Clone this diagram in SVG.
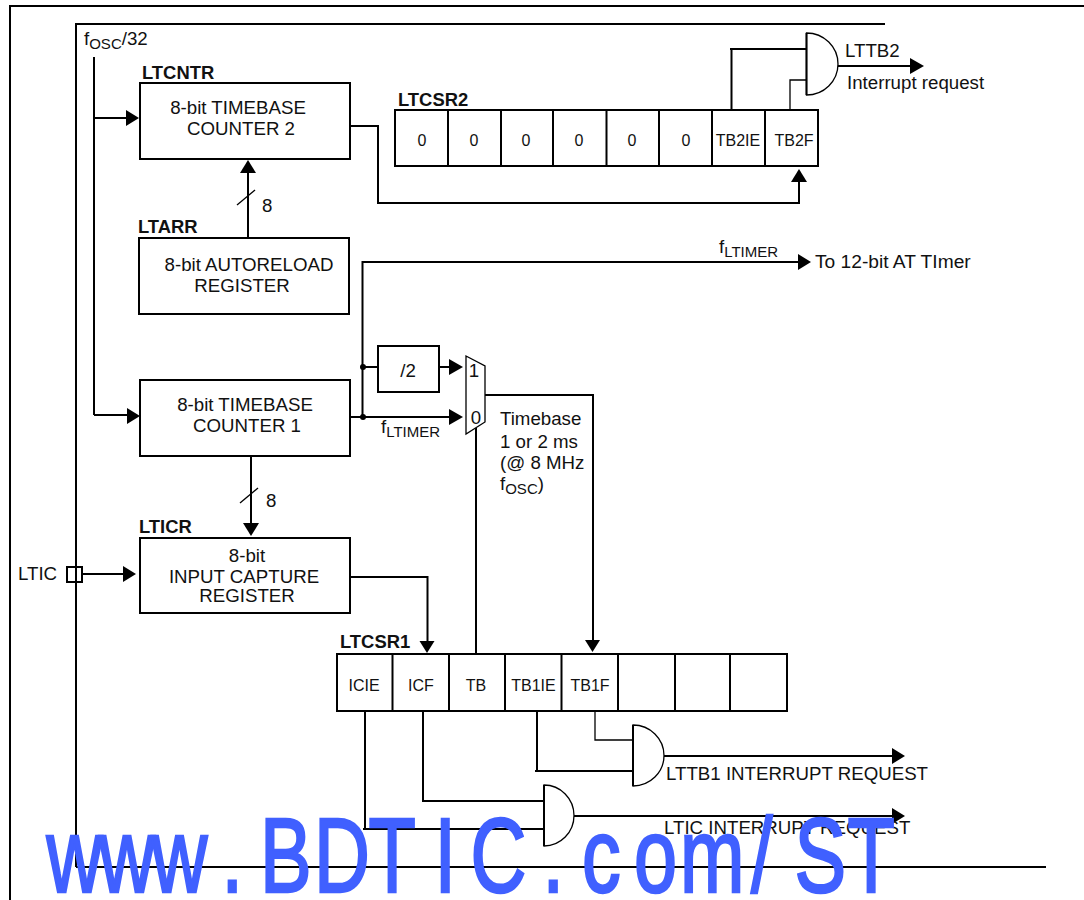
<svg xmlns="http://www.w3.org/2000/svg" width="1084" height="900" viewBox="0 0 1084 900">
<style>
text{font-family:"Liberation Sans",Arial,sans-serif;fill:#111;font-size:18.7px}
.b{font-weight:bold;font-size:18.4px}
.s{font-size:16px}
.c{text-anchor:middle}
.sub{font-size:15px}
.box{fill:#fff;stroke:#000;stroke-width:2}
.w{fill:none;stroke:#000;stroke-width:2}
.n{fill:none;stroke:#000;stroke-width:1.3}
.g{fill:#fff;stroke:#000;stroke-width:1.3}
.h{fill:#000;stroke:none}
text.wm{font-size:106px;fill:#4060ff;stroke:#4060ff;stroke-width:2.500}
</style>
<g id="frame" class="w">
<path d="M10 900V6H1084"/>
<path d="M76 867V24H885"/>
<path d="M76 867H1046"/>
</g>
<g id="connectors">
<path class="w" d="M94 57V415M94 118H127M94 415H127"/>
<polygon class="h" points="139,118 126,110 126,126"/>
<polygon class="h" points="140,416 127,408 127,424"/>
<path class="w" d="M248 238V172"/>
<polygon class="h" points="248,160 240,173 256,173"/>
<path class="n" d="M237 205L255 190"/>
<path class="w" d="M351 126H378V203H799V182"/>
<polygon class="h" points="799,169 791,182 807,182"/>
<path class="w" d="M731.500 110V49H807M730 49H732"/>
<path class="n" d="M790 110V80H807"/>
<path class="w" d="M838 66H911"/>
<polygon class="h" points="924,66 910,58 910,74"/>
<path class="w" d="M362.500 417V262H799"/>
<polygon class="h" points="811,262 798,254 798,270"/>
<path class="w" d="M351 417H450M363 367H378M439 367H450"/>
<polygon class="h" points="463,367 449,359 449,375"/>
<polygon class="h" points="463,417 449,409 449,425"/>
<circle class="h" cx="363" cy="367" r="3"/>
<circle class="h" cx="363" cy="417" r="3"/>
<path class="w" d="M485 395H593V641"/>
<polygon class="h" points="592.500,652 585,640 600,640"/>
<path class="w" d="M476 428V654"/>
<path class="w" d="M251 456V524"/>
<polygon class="h" points="251,536 243,523 259,523"/>
<path class="n" d="M240 503L258 488"/>
<path class="w" d="M82 574H124"/>
<polygon class="h" points="136,574 123,566 123,582"/>
<path class="w" d="M351 577H427.500V642"/>
<polygon class="h" points="427,653 419.500,641 434.500,641"/>
<path class="w" d="M365 711V829H544M363 829H366"/>
<path class="w" d="M423 711V801H544"/>
<path class="w" d="M537 711V771M535 771H635"/>
<path class="n" d="M595 711V740H633"/>
<path class="w" d="M664 756H893"/>
<polygon class="h" points="905,756 892,748 892,764"/>
<path class="w" d="M574 816H893"/>
<polygon class="h" points="905,816 892,808 892,824"/>
</g>
<g id="ltcntr">
<text class="b" x="142" y="79">LTCNTR</text>
<rect class="box" x="140" y="83" width="210" height="76"/>
<text class="c" x="238" y="114">8-bit TIMEBASE</text>
<text class="c" x="241" y="135">COUNTER 2</text>
</g>
<g id="label-8-a"><text x="262" y="212">8</text></g>
<g id="ltarr">
<text class="b" x="138" y="233">LTARR</text>
<rect class="box" x="139" y="238" width="210" height="76"/>
<text class="c" x="249" y="271">8-bit AUTORELOAD</text>
<text class="c" x="242" y="292">REGISTER</text>
</g>
<g id="ltcsr2">
<text class="b" x="398" y="106">LTCSR2</text>
<rect class="box" x="395" y="110" width="423" height="56"/>
<path class="w" d="M448 110V166M501 110V166M553 110V166M606.500 110V166M659 110V166M712 110V166M765 110V166"/>
<text class="s c" x="422" y="146">0</text>
<text class="s c" x="474" y="146">0</text>
<text class="s c" x="526" y="146">0</text>
<text class="s c" x="579" y="146">0</text>
<text class="s c" x="632" y="146">0</text>
<text class="s c" x="686" y="146">0</text>
<text class="s c" x="738" y="146">TB2IE</text>
<text class="s c" x="794" y="146">TB2F</text>
</g>
<g id="gate-ltb2">
<path class="g" d="M806.500 33A31.500 31 0 0 1 806.500 95Z"/>
<path class="w" d="M806.500 33V95"/>
<text x="845" y="57">LTTB2</text>
<text x="847" y="89">Interrupt request</text>
</g>
<g id="fosc">
<text x="84" y="45">f<tspan class="sub" dy="4">OSC</tspan><tspan dy="-4">/32</tspan></text>
</g>
<g id="to-at-timer">
<text x="719" y="253">f<tspan class="sub" dy="4">LTIMER</tspan></text>
<text x="815" y="268" style="font-size:19.200px">To 12-bit AT TImer</text>
</g>
<g id="counter1">
<rect class="box" x="140" y="380" width="210" height="76"/>
<text class="c" x="245" y="411">8-bit TIMEBASE</text>
<text class="c" x="247" y="432">COUNTER 1</text>
</g>
<g id="div2">
<rect class="box" x="378" y="346" width="61" height="46"/>
<text class="c" x="408" y="377">/2</text>
</g>
<g id="flt-label"><text x="381" y="433">f<tspan class="sub" dy="4">LTIMER</tspan></text></g>
<g id="mux">
<polygon class="g" points="466,356 485,366 485,422 466,434"/>
<text class="c" x="474" y="377">1</text>
<text class="c" x="476" y="424">0</text>
</g>
<g id="timebase-note">
<text x="500" y="425">Timebase</text>
<text x="500" y="448">1 or 2 ms</text>
<text x="500" y="469">(@ 8 MHz</text>
<text x="500" y="490">f<tspan class="sub" dy="4">OSC</tspan><tspan dy="-4">)</tspan></text>
</g>
<g id="label-8-b"><text x="266" y="507">8</text></g>
<g id="lticr">
<text class="b" x="139" y="533">LTICR</text>
<rect class="box" x="140" y="538" width="210" height="75"/>
<text class="c" x="247" y="562">8-bit</text>
<text class="c" x="244" y="583">INPUT CAPTURE</text>
<text class="c" x="247" y="602">REGISTER</text>
</g>
<g id="ltic-pin">
<text x="18" y="580">LTIC</text>
<rect class="w" x="67" y="567" width="15" height="15"/>
</g>
<g id="ltcsr1">
<text class="b" x="340" y="648">LTCSR1</text>
<rect class="box" x="337" y="654" width="450" height="57"/>
<path class="w" d="M392.500 654V711M449 654V711M505 654V711M561.500 654V711M618 654V711M675 654V711M730 654V711"/>
<text class="s c" x="364" y="691">ICIE</text>
<text class="s c" x="421" y="691">ICF</text>
<text class="s c" x="476" y="691">TB</text>
<text class="s c" x="533.500" y="691">TB1IE</text>
<text class="s c" x="590" y="691">TB1F</text>
</g>
<g id="gate-ltb1">
<path class="g" d="M633 725A31 30.500 0 0 1 633 786Z"/>
<path class="w" d="M633 725V786"/>
<text x="666" y="780">LTTB1 INTERRUPT REQUEST</text>
</g>
<g id="gate-ltic">
<path class="g" d="M544 785A30 30.500 0 0 1 544 846Z"/>
<path class="w" d="M544 785V846"/>
<text x="664" y="834">LTIC INTERRUPT REQUEST</text>
</g>
<g id="watermark">
<text class="wm" transform="scale(0.73 1)" y="892.500" x="63.700 135.600 207.500 303.400 356.200 430.100 504.800 595.200 644.500 743.200 797.300 868.500 931.500 1028.800 1088.400 1161">www.BDTIC.com/ST</text>
</g>
</svg>
